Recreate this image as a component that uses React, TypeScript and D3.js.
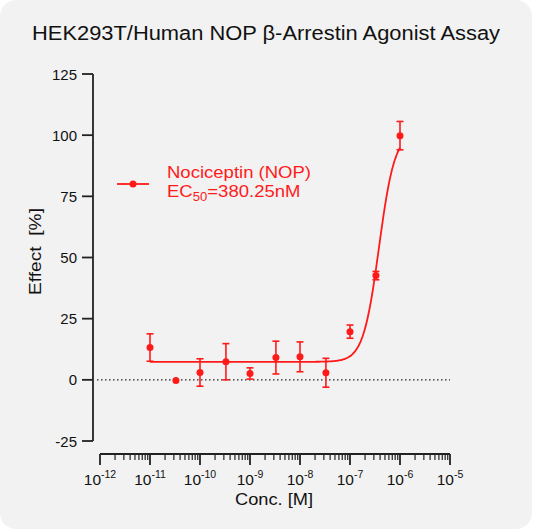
import React from "react";
import * as d3 from "d3";

const concentrations = [1e-11, 3.3e-11, 1e-10, 3.3e-10, 1e-9, 3.3e-9, 1e-8, 3.3e-8, 1e-7, 3.3e-7, 1e-6];
const effectMean = [13.2, -0.3, 3.0, 7.4, 2.6, 9.1, 9.4, 2.9, 19.7, 42.6, 99.8];
const effectSD = [5.6, 0, 5.6, 7.4, 2.3, 6.7, 6.1, 5.9, 2.7, 1.7, 5.8];

const fitBottom = 7.35;
const fitTop = 101;
const ec50 = 380.25e-9;
const hillSlope = 2.75;

const yTicks = [125, 100, 75, 50, 25, 0, -25];
const xDecades = [-12, -11, -10, -9, -8, -7, -6, -5];

const title = "HEK293T/Human NOP β-Arrestin Agonist Assay";
const seriesName = "Nociceptin (NOP)";

const RED = "#ff1a1a";
const AXIS = "#222";
const FONT = "'Liberation Sans', Arial, Helvetica, sans-serif";

export default function App() {
  const W = 533, H = 532;
  const x = d3.scaleLog().domain([1e-12, 1e-5]).range([100, 450]);
  const y = d3.scaleLinear().domain([-25, 125]).range([441, 74]);
  const yAxisX = 93;
  const xAxisY = 454;

  const logEC = Math.log10(ec50);
  const fitFn = (c: number) =>
    fitBottom + (fitTop - fitBottom) / (1 + Math.pow(10, (logEC - Math.log10(c)) * hillSlope));
  const curvePts: [number, number][] = d3
    .range(-11, -6 + 1e-9, 0.02)
    .map((l) => [Math.pow(10, l), fitFn(Math.pow(10, l))]);
  const line = d3
    .line<[number, number]>()
    .x((d) => x(d[0]))
    .y((d) => y(d[1]))
    .curve(d3.curveMonotoneX);

  const minorTicks: number[] = [];
  for (let e = -12; e < -5; e++) {
    for (let m = 2; m <= 9; m++) minorTicks.push(m * Math.pow(10, e));
  }

  return (
    <svg
      width={W}
      height={H}
      style={{ position: "absolute", left: 0, top: 0, fontFamily: FONT }}
    >
      <rect x={0} y={0} width={532} height={529} rx={16} ry={16} fill="#f2f2f2" />
      <text x={32} y={39.5} fontSize={20} fill="#111" textLength={468} lengthAdjust="spacingAndGlyphs">
        {title}
      </text>

      {/* Y axis */}
      <line x1={yAxisX} x2={yAxisX} y1={y(125)} y2={y(-25)} stroke={AXIS} strokeWidth={1.8} />
      {yTicks.map((t) => (
        <g key={t}>
          <line x1={yAxisX - 11} x2={yAxisX} y1={y(t)} y2={y(t)} stroke={AXIS} strokeWidth={1.8} />
          <text x={77} y={y(t) + 5.5} textAnchor="end" fontSize={15} fill="#111">
            {t}
          </text>
        </g>
      ))}
      <text
        transform={`translate(40.5,${295}) rotate(-90)`}
        fontSize={16.5}
        fill="#111"
        textLength={87}
        lengthAdjust="spacingAndGlyphs"
      >
        Effect{"\u00a0\u00a0"}[%]
      </text>

      {/* X axis */}
      <line x1={x(1e-12)} x2={x(1e-5)} y1={xAxisY} y2={xAxisY} stroke={AXIS} strokeWidth={1.8} />
      {minorTicks.map((t, i) => (
        <line key={i} x1={x(t)} x2={x(t)} y1={xAxisY} y2={xAxisY + 6} stroke={AXIS} strokeWidth={1.2} />
      ))}
      {xDecades.map((e) => (
        <g key={e}>
          <line
            x1={x(Math.pow(10, e))}
            x2={x(Math.pow(10, e))}
            y1={xAxisY}
            y2={xAxisY + 11}
            stroke={AXIS}
            strokeWidth={1.8}
          />
          <text x={x(Math.pow(10, e))} y={485} textAnchor="middle" fontSize={15.5} fill="#111">
            10
            <tspan fontSize={10.5} dy={-7}>
              {e}
            </tspan>
          </text>
        </g>
      ))}
      <text x={235} y={505} fontSize={17} fill="#111" textLength={78} lengthAdjust="spacingAndGlyphs">
        Conc. [M]
      </text>

      {/* zero line */}
      <line
        x1={yAxisX + 4}
        x2={x(1e-5)}
        y1={y(0)}
        y2={y(0)}
        stroke={AXIS}
        strokeWidth={1.2}
        strokeDasharray="1.5,2.5"
      />

      {/* fit curve */}
      <path d={line(curvePts) || ""} fill="none" stroke={RED} strokeWidth={1.8} />

      {/* points */}
      {concentrations.map((c, i) => {
        const cx = x(c);
        const m = effectMean[i];
        const s = effectSD[i];
        return (
          <g key={i}>
            {s > 0 && (
              <g stroke={RED} strokeWidth={1.6}>
                <line x1={cx} x2={cx} y1={y(m + s)} y2={y(m - s)} />
                <line x1={cx - 3.5} x2={cx + 3.5} y1={y(m + s)} y2={y(m + s)} />
                <line x1={cx - 3.5} x2={cx + 3.5} y1={y(m - s)} y2={y(m - s)} />
              </g>
            )}
            <circle cx={cx} cy={y(m)} r={3.5} fill={RED} />
          </g>
        );
      })}

      {/* legend */}
      <line x1={117} x2={149} y1={184} y2={184} stroke={RED} strokeWidth={1.8} />
      <circle cx={133} cy={184} r={3.5} fill={RED} />
      <g transform="translate(167,177.5) scale(1.09,1)">
        <text x={0} y={0} fontSize={17} fill={RED}>
          {seriesName}
        </text>
        <text x={0} y={20} fontSize={17} fill={RED}>
          EC
          <tspan fontSize={12} dy={4}>50</tspan>
          <tspan dy={-4}>=380.25nM</tspan>
        </text>
      </g>
    </svg>
  );
}
